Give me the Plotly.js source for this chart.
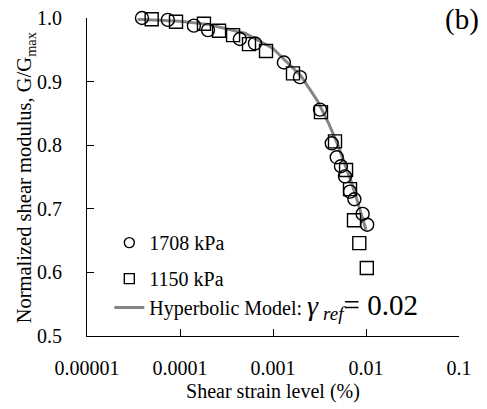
<!DOCTYPE html>
<html>
<head>
<meta charset="utf-8">
<script src="https://cdn.plot.ly/plotly-3.0.1.min.js"></script>
<style>html,body{margin:0;padding:0;background:#fff;}#chart{width:487px;height:409px;}</style>
</head>
<body>
<div id="chart"></div>
<script>
// Data
const strain1708 = [3.9e-5, 7.4e-5, 1.41e-4, 2.0e-4, 4.4e-4, 6.4e-4, 1.31e-3, 1.95e-3, 3.2e-3, 4.28e-3, 4.84e-3, 5.38e-3, 5.94e-3, 6.73e-3, 7.5e-3, 9.2e-3, 1.03e-2];
const ratio1708  = [1.0, 0.997, 0.988, 0.981, 0.967, 0.960, 0.930, 0.907, 0.856, 0.803, 0.781, 0.767, 0.751, 0.727, 0.715, 0.692, 0.675];
const strain1150 = [4.96e-5, 9.06e-5, 1.81e-4, 2.63e-4, 3.72e-4, 5.52e-4, 8.41e-4, 1.64e-3, 3.28e-3, 4.64e-3, 6.1e-3, 6.73e-3, 7.43e-3, 8.47e-3, 1.02e-2];
const ratio1150  = [0.998, 0.994, 0.991, 0.980, 0.973, 0.959, 0.948, 0.913, 0.852, 0.806, 0.761, 0.731, 0.682, 0.646, 0.607];
const modelStrain = [3.5e-5, 1e-4, 2e-4, 5e-4, 1e-3, 2e-3, 3e-3, 4e-3, 5e-3, 6e-3, 7e-3, 8e-3, 9e-3, 1e-2];
const modelRatio  = [0.998, 0.995, 0.990, 0.976, 0.952, 0.909, 0.870, 0.833, 0.800, 0.769, 0.741, 0.714, 0.690, 0.667];
const xTickVals = [0.00001, 0.0001, 0.001, 0.01, 0.1];
const xTickText = ['0.00001', '0.0001', '0.001', '0.01', '0.1'];
const yTickVals = [0.5, 0.6, 0.7, 0.8, 0.9, 1.0];
const seriesNames = ['1708 kPa', '1150 kPa',
  'Hyperbolic Model: <span style="font-size:28px"><i>γ</i></span> <sub><span style="font-size:19px"><i>ref</i></span></sub><span style="font-size:29px">= 0.02</span>'];
const yTitle = 'Normalized shear modulus, G/G<sub>max</sub>';
const xTitle = 'Shear strain level (%)';

const FONT = '"Liberation Serif", "Times New Roman", serif';
const circleMarker = {symbol: 'circle-open', color: '#000', line: {width: 1.4, color: '#000'}};
const squareMarker = {symbol: 'square-open', color: '#000', line: {width: 1.4, color: '#000'}};

const traces = [
  {x: modelStrain, y: modelRatio, type: 'scatter', mode: 'lines', name: seriesNames[2],
   line: {color: '#858585', width: 3}, legendrank: 3, legendgroup: 'b', cliponaxis: false},
  {x: strain1708, y: ratio1708, type: 'scatter', mode: 'markers', name: seriesNames[0], showlegend: false,
   marker: Object.assign({size: 13}, circleMarker), cliponaxis: false},
  {x: strain1150, y: ratio1150, type: 'scatter', mode: 'markers', name: seriesNames[1], showlegend: false,
   marker: Object.assign({size: 13}, squareMarker), cliponaxis: false},
  // legend-only entries with the smaller legend symbols of the reference
  {x: [null], y: [null], type: 'scatter', mode: 'markers', name: seriesNames[0],
   marker: Object.assign({size: 10}, circleMarker), legendrank: 1, legendgroup: 'a'},
  {x: [null], y: [null], type: 'scatter', mode: 'markers', name: seriesNames[1],
   marker: Object.assign({size: 10}, squareMarker), legendrank: 2, legendgroup: 'b'}
];

const layout = {
  width: 487, height: 409,
  margin: {l: 87, r: 28, t: 18, b: 72.5},
  paper_bgcolor: '#fff', plot_bgcolor: '#fff',
  font: {family: FONT, size: 20, color: '#000'},
  showlegend: true,
  legend: {x: 0.06, xanchor: 'left', y: 0.355, yanchor: 'top', bgcolor: 'rgba(0,0,0,0)',
           font: {family: FONT, size: 20, color: '#000'}, tracegroupgap: 7, traceorder: 'grouped'},
  xaxis: {type: 'log', range: [-5, -1], tickvals: xTickVals, ticktext: xTickText,
          ticks: 'inside', ticklen: 7, tickcolor: '#000', showline: true, linecolor: '#000', linewidth: 1,
          showgrid: false, zeroline: false, mirror: false, ticklabelstandoff: 14,
          tickfont: {family: FONT, size: 20, color: '#000'},
          title: {text: xTitle, font: {family: FONT, size: 20, color: '#000'}, standoff: 5}},
  yaxis: {range: [0.5, 1.0], tickvals: yTickVals, tickformat: '.1f',
          ticks: 'inside', ticklen: 7, tickcolor: '#000', showline: true, linecolor: '#000', linewidth: 1,
          showgrid: false, zeroline: false, mirror: false, ticklabelstandoff: 20,
          tickfont: {family: FONT, size: 20, color: '#000'}},
  annotations: [
    {text: yTitle, xref: 'paper', yref: 'paper', x: -0.163, y: 0.497, xanchor: 'center', yanchor: 'middle',
     textangle: -90, showarrow: false, font: {family: FONT, size: 20.5, color: '#000'}},
    {text: '(b)', xref: 'paper', yref: 'paper', x: 1.008, y: 0.994, xanchor: 'center', yanchor: 'middle',
     showarrow: false, font: {family: FONT, size: 29, color: '#000'}}
  ]
};

Plotly.newPlot('chart', traces, layout, {staticPlot: true, displayModeBar: false});
</script>
</body>
</html>
